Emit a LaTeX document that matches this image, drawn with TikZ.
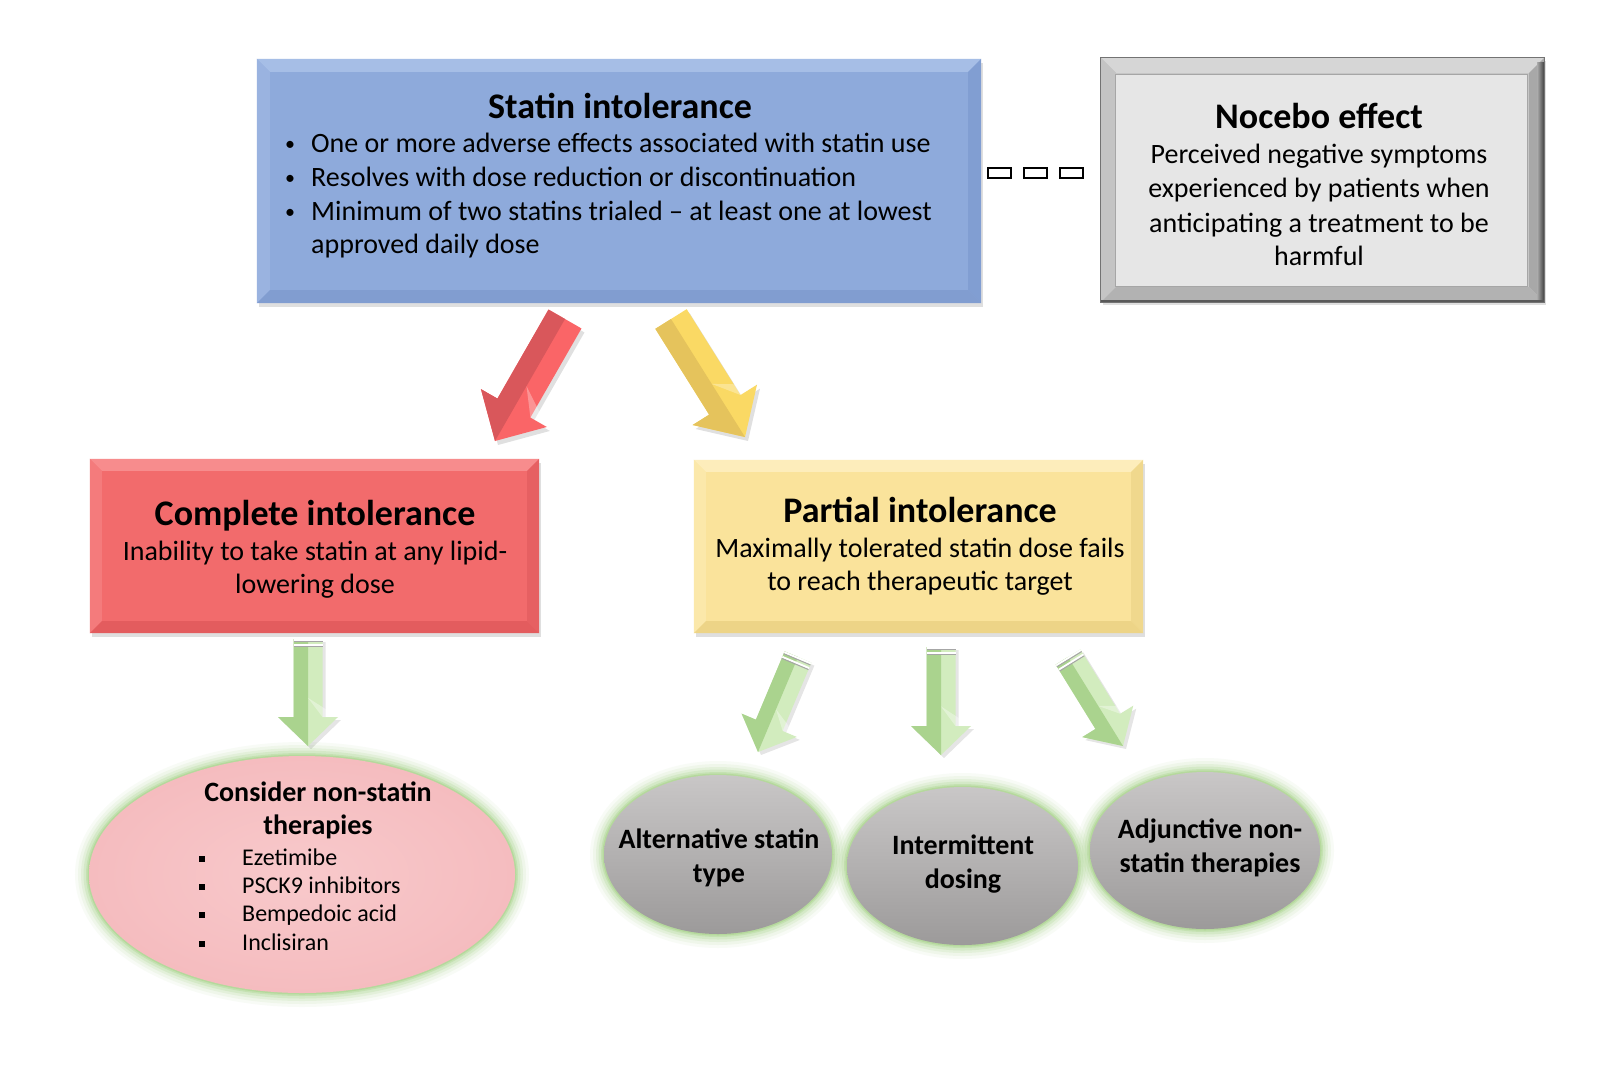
\documentclass[tikz,border=0pt]{standalone}
\usepackage{fontspec}
\setmainfont{Carlito}
\usetikzlibrary{calc,shapes.geometric,decorations.markings,shadows}
\definecolor{bluemain}{HTML}{8EAADB}
\definecolor{bluetop}{HTML}{A6BEE6}
\definecolor{blueleft}{HTML}{9AB3E0}
\definecolor{blueright}{HTML}{819ED2}
\definecolor{bluebot}{HTML}{819DD0}
\definecolor{redmain}{HTML}{F26B6C}
\definecolor{redtop}{HTML}{F78C8D}
\definecolor{redleft}{HTML}{F47B7C}
\definecolor{redright}{HTML}{E66062}
\definecolor{redbot}{HTML}{E35C5E}
\definecolor{yelmain}{HTML}{FAE39B}
\definecolor{yeltop}{HTML}{FDEDBB}
\definecolor{yelleft}{HTML}{FBE8AA}
\definecolor{yelright}{HTML}{F0D88D}
\definecolor{yelbot}{HTML}{EDD487}
\definecolor{graymain}{HTML}{E6E6E6}
\definecolor{framemain}{HTML}{C6C6C6}
\definecolor{frametop}{HTML}{D6D6D6}
\definecolor{frameleft}{HTML}{C4C4C4}
\definecolor{frameright}{HTML}{A8A8A8}
\definecolor{framebot}{HTML}{B2B2B2}
\definecolor{glowgreen}{HTML}{A3D184}
\definecolor{pinkin}{HTML}{F8C9CB}
\definecolor{pinkout}{HTML}{F5BCBF}
\definecolor{graytop}{HTML}{C9C7C7}
\definecolor{graybot}{HTML}{9C9A9A}
\definecolor{arrred}{HTML}{FA6567}
\definecolor{arrreddk}{HTML}{D9575B}
\definecolor{arryel}{HTML}{FAD964}
\definecolor{arryeldk}{HTML}{E5C35C}
\definecolor{arrgrn}{HTML}{D2ECBE}
\definecolor{arrgrndk}{HTML}{AAD38E}
\newcommand\bevelframe[6]{%
 \fill[#3] (#1.north west) -- (#1.north east) -- ($(#1.north east)+(-#2,#2)$) -- ($(#1.north west)+(#2,#2)$) -- cycle;
 \fill[#4] (#1.north west) -- ($(#1.north west)+(#2,#2)$) -- ($(#1.south west)+(#2,-#2)$) -- (#1.south west) -- cycle;
 \fill[#5] (#1.north east) -- ($(#1.north east)+(-#2,#2)$) -- ($(#1.south east)+(-#2,-#2)$) -- (#1.south east) -- cycle;
 \fill[#6] (#1.south west) -- ($(#1.south west)+(#2,-#2)$) -- ($(#1.south east)+(-#2,-#2)$) -- (#1.south east) -- cycle;
}
\newcommand\glowat[3]{% center, xr, yr
 \foreach \w/\o in {28/0.07,22/0.10,16/0.15,11/0.22,6/0.32,3/0.45}
  \draw[glowgreen, line width=\w pt, opacity=\o] (#1) ellipse [x radius=#2, y radius=#3];
}
\tikzset{
 boxnode/.style={rectangle, inner sep=0pt, draw=none},
 body/.style={font=\fontsize{28}{34}\selectfont, inner sep=0pt, anchor=base},
 ttl/.style={font=\fontsize{36}{42}\selectfont\bfseries, inner sep=0pt, anchor=base},
 ctxt/.style={font=\fontsize{28}{34}\selectfont\bfseries, inner sep=0pt, anchor=base},
 itemtxt/.style={font=\fontsize{24}{29}\selectfont, inner sep=0pt, anchor=base west},
 bul/.style={font=\fontsize{20}{24}\selectfont, inner sep=0pt, anchor=base},
 barrow/.style n args={3}{to path={
  ($(\tikztostart)!#1!90:(\tikztotarget)$) --
  ($(\tikztotarget)!#3!(\tikztostart)!#1!-90:(\tikztostart)$) --
  ($(\tikztotarget)!#3!(\tikztostart)!#2!-90:(\tikztostart)$) --
  (\tikztotarget) --
  ($(\tikztotarget)!#3!(\tikztostart)!#2!90:(\tikztostart)$) --
  ($(\tikztotarget)!#3!(\tikztostart)!#1!90:(\tikztostart)$) --
  ($(\tikztostart)!#1!-90:(\tikztotarget)$) -- cycle}},
 bhalf/.style n args={3}{to path={
  (\tikztostart) --
  ($(\tikztostart)!#1!-90:(\tikztotarget)$) --
  ($(\tikztotarget)!#3!(\tikztostart)!#1!90:(\tikztostart)$) --
  ($(\tikztotarget)!#3!(\tikztostart)!#2!90:(\tikztostart)$) --
  (\tikztotarget) -- cycle}},
 bwing/.style n args={3}{to path={
  ($(\tikztotarget)!#3!(\tikztostart)!#2!-90:(\tikztostart)$) --
  ($(\tikztotarget)!#3!(\tikztostart)!#1!-90:(\tikztostart)$) --
  ($(\tikztotarget)!0.45!(\tikztostart)$) -- cycle}},
 tailband/.style n args={2}{to path={
  ($(\tikztostart)!#1!90:(\tikztotarget)$) --
  ($(\tikztostart)!#1!-90:(\tikztotarget)$) --
  ($(\tikztostart)!#2!(\tikztotarget)!#1!90:(\tikztostart)$) --
  ($(\tikztostart)!#2!(\tikztotarget)!#1!-90:(\tikztostart)$) -- cycle}},
}
\begin{document}
\begin{tikzpicture}[x=1pt,y=-1pt]
\useasboundingbox (0,0) rectangle (1624,1080);
\fill[white] (0,0) rectangle (1624,1080);

% ---- Statin intolerance box
\node[boxnode, minimum width=724pt, minimum height=244pt, fill=bluemain,
  drop shadow={shadow xshift=2pt, shadow yshift=-4pt, opacity=0.25}] (statin) at (619,181) {};
\bevelframe{statin}{13}{bluetop}{blueleft}{blueright}{bluebot}
\node[ttl] (statinT) at (620,118) {Statin intolerance};
\node[bul] (sb1) at (290,150) {•};
\node[bul] (sb2) at (290,184) {•};
\node[bul] (sb3) at (290,218) {•};
\node[body, anchor=base west] (sl1) at (311,152) {One or more adverse effects associated with statin use};
\node[body, anchor=base west] (sl2) at (311,186) {Resolves with dose reduction or discontinuation};
\node[body, anchor=base west] (sl3) at (311,220) {Minimum of two statins trialed – at least one at lowest};
\node[body, anchor=base west] (sl4) at (311,253) {approved daily dose};

% ---- Nocebo box
\node[boxnode, minimum width=443pt, minimum height=244pt, fill=framemain,
  drop shadow={shadow xshift=2pt, shadow yshift=-3pt, opacity=0.25}] (nocebo) at (1322.5,180) {};
\bevelframe{nocebo}{15}{frametop}{frameleft}{frameright}{framebot}
\shade[left color=frameright, right color=black!75] ($(nocebo.north east)+(-7,5)$) rectangle (nocebo.south east);
\fill[black!65] ($(nocebo.south west)+(0,-2.5)$) rectangle (nocebo.south east);
\draw[black!55, line width=0.8pt] (nocebo.north west) rectangle (nocebo.south east);
\node[boxnode, minimum width=412pt, minimum height=212pt, fill=graymain, draw=black!35, line width=0.8pt] (noceboIn) at (1321.5,180) {};
\node[ttl] (noceboT) at (1319,128) {Nocebo effect};
\node[body] (nl1) at (1319,163) {Perceived negative symptoms};
\node[body] (nl2) at (1319,197) {experienced by patients when};
\node[body] (nl3) at (1319,232) {anticipating a treatment to be};
\node[body] (nl4) at (1319,265) {harmful};

% ---- dashed connector
\path[postaction={decorate}, decoration={markings,
   mark=at position 12.5pt with {\draw[line width=2pt] (-11.5pt,-5pt) rectangle (11.5pt,5pt);},
   mark=at position 48pt with {\draw[line width=2pt] (-11.5pt,-5pt) rectangle (11.5pt,5pt);},
   mark=at position 84pt with {\draw[line width=2pt] (-11.5pt,-5pt) rectangle (11.5pt,5pt);}}]
  ($(statin.east)+(6,-8.5)$) -- ($(nocebo.west)+(-17,-7.5)$);

% ---- Complete intolerance box
\node[boxnode, minimum width=449pt, minimum height=174pt, fill=redmain,
  drop shadow={shadow xshift=2pt, shadow yshift=-4pt, opacity=0.25}] (complete) at (314.5,546) {};
\bevelframe{complete}{12}{redtop}{redleft}{redright}{redbot}
\node[ttl] (completeT) at (315,525) {Complete intolerance};
\node[body] (cl1) at (315,560) {Inability to take statin at any lipid-};
\node[body] (cl2) at (315,593) {lowering dose};

% ---- Partial intolerance box
\node[boxnode, minimum width=449pt, minimum height=173pt, fill=yelmain,
  drop shadow={shadow xshift=2pt, shadow yshift=-4pt, opacity=0.25}] (partial) at (918.5,546.5) {};
\bevelframe{partial}{12}{yeltop}{yelleft}{yelright}{yelbot}
\node[ttl] (partialT) at (920,522) {Partial intolerance};
\node[body] (pl1) at (920,557) {Maximally tolerated statin dose fails};
\node[body] (pl2) at (920,590) {to reach therapeutic target};

% ---- big arrows
\coordinate (ra1) at (565,319);
\coordinate (ra2) at (495,441);
\coordinate (ya1) at (671,319);
\coordinate (ya2) at (745,437);
\fill[black, opacity=0.12] ($(ra1)+(3,4)$) to[barrow={19pt}{38pt}{38pt}] ($(ra2)+(3,4)$);
\fill[arrred] (ra1) to[barrow={19pt}{38pt}{38pt}] (ra2);
\fill[arrreddk] (ra1) to[bhalf={19pt}{38pt}{38pt}] (ra2);
\fill[white, opacity=0.3] (ra1) to[bwing={19pt}{38pt}{38pt}] (ra2);
\fill[black, opacity=0.12] ($(ya1)+(3,4)$) to[barrow={18.5pt}{38pt}{38pt}] ($(ya2)+(3,4)$);
\fill[arryel] (ya1) to[barrow={18.5pt}{38pt}{38pt}] (ya2);
\fill[arryeldk] (ya1) to[bhalf={18.5pt}{38pt}{38pt}] (ya2);
\fill[white, opacity=0.3] (ya1) to[bwing={18.5pt}{38pt}{38pt}] (ya2);

% ---- pink ellipse
\coordinate (pinkC) at (302,874.5);
\glowat{pinkC}{213}{118.5}
\node[ellipse, minimum width=426pt, minimum height=237pt, inner sep=0pt, inner color=pinkin, outer color=pinkout] (nonstatin) at (pinkC) {};
\node[ctxt] (nsT1) at (318,801) {Consider non-statin};
\node[ctxt] (nsT2) at (318,834) {therapies};
\node[itemtxt, anchor=base] (nsb1) at (202,865) {\rule[3pt]{6.5pt}{6.5pt}};
\node[itemtxt, anchor=base] (nsb2) at (202,893) {\rule[3pt]{6.5pt}{6.5pt}};
\node[itemtxt, anchor=base] (nsb3) at (202,921) {\rule[3pt]{6.5pt}{6.5pt}};
\node[itemtxt, anchor=base] (nsb4) at (202,950) {\rule[3pt]{6.5pt}{6.5pt}};
\node[itemtxt] (ns1) at (242,865) {Ezetimibe};
\node[itemtxt] (ns2) at (242,893) {PSCK9 inhibitors};
\node[itemtxt] (ns3) at (242,921) {Bempedoic acid};
\node[itemtxt] (ns4) at (242,950) {Inclisiran};

% ---- gray circles
\coordinate (g1C) at (718,854.5);
\coordinate (g2C) at (962.5,866);
\coordinate (g3C) at (1205,850.5);
\glowat{g1C}{114}{79.5}
\glowat{g2C}{115.5}{79}
\glowat{g3C}{115}{78.5}
\node[ellipse, minimum width=228pt, minimum height=159pt, inner sep=0pt, top color=graytop, bottom color=graybot] (alt) at (g1C) {};
\node[ellipse, minimum width=231pt, minimum height=158pt, inner sep=0pt, top color=graytop, bottom color=graybot] (inter) at (g2C) {};
\node[ellipse, minimum width=230pt, minimum height=157pt, inner sep=0pt, top color=graytop, bottom color=graybot] (adj) at (g3C) {};
\node[ctxt] (altT1) at (719,848) {Alternative statin};
\node[ctxt] (altT2) at (719,882) {type};
\node[ctxt] (interT1) at (963,854) {Intermittent};
\node[ctxt] (interT2) at (963,888) {dosing};
\node[ctxt] (adjT1) at (1210,838) {Adjunctive non-};
\node[ctxt] (adjT2) at (1210,872) {statin therapies};

% ---- green arrows
\coordinate (ga1) at (308,639);
\coordinate (ga2) at (308,746);
\coordinate (gb1) at (798,657);
\coordinate (gb2) at (758,752);
\coordinate (gc1) at (941,647);
\coordinate (gc2) at (941,755);
\coordinate (gd1) at (1068,657);
\coordinate (gd2) at (1123,746);
\foreach \s/\t in {ga1/ga2,gb1/gb2,gc1/gc2,gd1/gd2}{
  \fill[black, opacity=0.10] ($(\s)+(3,3)$) to[barrow={14.5pt}{30pt}{29pt}] ($(\t)+(3,3)$);
  \fill[arrgrn] (\s) to[barrow={14.5pt}{30pt}{29pt}] (\t);
  \fill[arrgrndk] (\s) to[bhalf={14.5pt}{30pt}{29pt}] (\t);
  \fill[white, opacity=0.35] (\s) to[bwing={14.5pt}{30pt}{29pt}] (\t);
  \fill[white] (\s) to[tailband={14.5pt}{2pt}] (\t);
  \fill[black!35] ($(\s)!2pt!(\t)$) to[tailband={14.5pt}{1pt}] (\t);
  \fill[white] ($(\s)!5pt!(\t)$) to[tailband={14.5pt}{2pt}] (\t);
  \fill[black!35] ($(\s)!7pt!(\t)$) to[tailband={14.5pt}{1pt}] (\t);
}
\end{tikzpicture}
\end{document}
